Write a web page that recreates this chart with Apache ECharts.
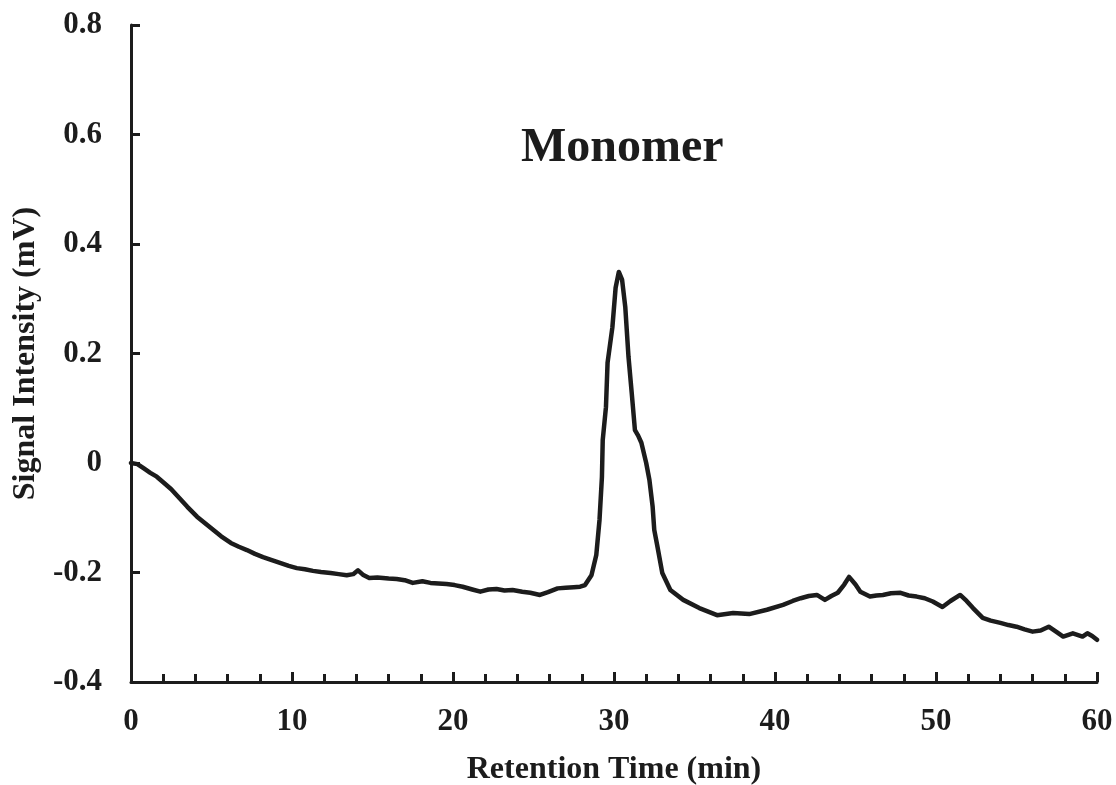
<!DOCTYPE html>
<html>
<head>
<meta charset="utf-8">
<script src="https://cdn.jsdelivr.net/npm/echarts@6/dist/echarts.min.js"></script>
<style>
html,body{margin:0;padding:0;background:#fff;}
#chart{width:1116px;height:785px;}
</style>
</head>
<body>
<div id="chart"></div>
<script>
// Retention time (min)
var times = [0, 0.4, 0.8, 1.2, 1.6, 2.0, 2.5, 3.0, 3.5, 4.1, 4.6, 5.1, 5.6, 6.2, 6.7, 7.2, 7.7, 8.2, 8.7, 9.3, 9.8, 10.3, 10.8, 11.3, 11.8, 12.4, 12.9, 13.4, 13.8, 14.1, 14.4, 14.8, 15.3, 16.0, 16.5, 17.0, 17.5, 18.1, 18.6, 19.1, 19.6, 20.1, 20.6, 21.2, 21.7, 22.2, 22.7, 23.2, 23.7, 24.3, 24.8, 25.4, 25.9, 26.5, 27.0, 27.5, 27.9, 28.2, 28.6, 28.9, 29.1, 29.25, 29.3, 29.5, 29.6, 29.9, 30.1, 30.3, 30.5, 30.7, 30.9, 31.1, 31.3, 31.5, 31.7, 32.0, 32.2, 32.4, 32.5, 32.7, 33.0, 33.5, 34.3, 35.3, 36.4, 37.4, 38.4, 39.5, 40.5, 41.1, 41.6, 42.1, 42.6, 43.1, 43.5, 43.9, 44.3, 44.6, 45.0, 45.3, 45.9, 46.3, 46.7, 47.2, 47.8, 48.3, 48.8, 49.3, 49.8, 50.4, 50.9, 51.5, 51.9, 52.3, 52.9, 53.4, 54.0, 54.5, 55.0, 55.5, 56.0, 56.5, 57.0, 57.5, 57.9, 58.5, 59.1, 59.4, 59.7, 60.0];
// Signal intensity (mV)
var signal = [0.000, -0.002, -0.010, -0.018, -0.025, -0.035, -0.048, -0.064, -0.080, -0.098, -0.110, -0.122, -0.134, -0.146, -0.153, -0.159, -0.166, -0.172, -0.177, -0.183, -0.188, -0.192, -0.194, -0.197, -0.199, -0.201, -0.203, -0.205, -0.203, -0.196, -0.204, -0.210, -0.209, -0.211, -0.212, -0.214, -0.219, -0.216, -0.219, -0.220, -0.221, -0.223, -0.226, -0.231, -0.235, -0.231, -0.230, -0.233, -0.232, -0.235, -0.237, -0.241, -0.236, -0.229, -0.228, -0.227, -0.226, -0.223, -0.205, -0.168, -0.104, -0.026, 0.042, 0.102, 0.183, 0.248, 0.320, 0.349, 0.335, 0.285, 0.194, 0.128, 0.060, 0.050, 0.037, 0.000, -0.031, -0.080, -0.122, -0.153, -0.201, -0.232, -0.250, -0.265, -0.278, -0.274, -0.276, -0.268, -0.259, -0.252, -0.247, -0.243, -0.241, -0.250, -0.243, -0.237, -0.222, -0.208, -0.222, -0.235, -0.244, -0.242, -0.241, -0.238, -0.237, -0.242, -0.244, -0.247, -0.253, -0.263, -0.252, -0.241, -0.252, -0.265, -0.283, -0.288, -0.292, -0.296, -0.299, -0.304, -0.308, -0.306, -0.299, -0.309, -0.317, -0.311, -0.317, -0.311, -0.316, -0.323];
var xTicks = [0, 10, 20, 30, 40, 50, 60];
var yTicks = [-0.4, -0.2, 0, 0.2, 0.4, 0.6, 0.8];
var titleText = 'Monomer';
var xName = 'Retention Time (min)';
var yName = 'Signal Intensity (mV)';

var font = '"Liberation Serif", "Times New Roman", serif';
var ink = '#1c1c1c';
var pts = times.map(function (t, i) { return [t, signal[i]]; });

var chart = echarts.init(document.getElementById('chart'), null, {renderer: 'canvas'});
chart.setOption({
  animation: false,
  backgroundColor: '#ffffff',
  title: {
    text: titleText,
    left: 516, top: 120,
    textStyle: {fontFamily: font, fontWeight: 'bold', fontSize: 48, color: ink}
  },
  grid: {left: 131, right: 19, top: 25, bottom: 103, containLabel: false, outerBoundsMode: 'none'},
  xAxis: {
    type: 'value', min: xTicks[0], max: xTicks[xTicks.length - 1], interval: 10,
    name: xName, nameLocation: 'middle', nameGap: 72,
    nameTextStyle: {fontFamily: font, fontWeight: 'bold', fontSize: 32, color: ink},
    axisLine: {show: true, onZero: false, lineStyle: {color: ink, width: 3}},
    axisTick: {show: true, inside: true, length: 10, lineStyle: {color: ink, width: 3}},
    minorTick: {show: true, splitNumber: 5, length: 8, lineStyle: {color: ink, width: 3}},
    axisLabel: {margin: 24, fontFamily: font, fontWeight: 'bold', fontSize: 31, color: ink},
    splitLine: {show: false}
  },
  yAxis: {
    type: 'value', min: yTicks[0], max: yTicks[yTicks.length - 1], interval: 0.2,
    name: yName, nameLocation: 'middle', nameGap: 78, nameRotate: 90,
    nameTextStyle: {fontFamily: font, fontWeight: 'bold', fontSize: 32, color: ink},
    axisLine: {show: true, onZero: false, lineStyle: {color: ink, width: 3}},
    axisTick: {show: true, inside: true, length: 9, lineStyle: {color: ink, width: 3}},
    axisLabel: {
      margin: 29, fontFamily: font, fontWeight: 'bold', fontSize: 31, color: ink,
      formatter: function (v) { return Math.abs(v) < 1e-9 ? '0' : String(Math.round(v * 10) / 10); }
    },
    splitLine: {show: false}
  },
  series: [{
    type: 'line', data: pts, showSymbol: false, smooth: false,
    lineStyle: {color: ink, width: 4.5, join: 'round', cap: 'round'}
  }]
});
</script>
</body>
</html>
